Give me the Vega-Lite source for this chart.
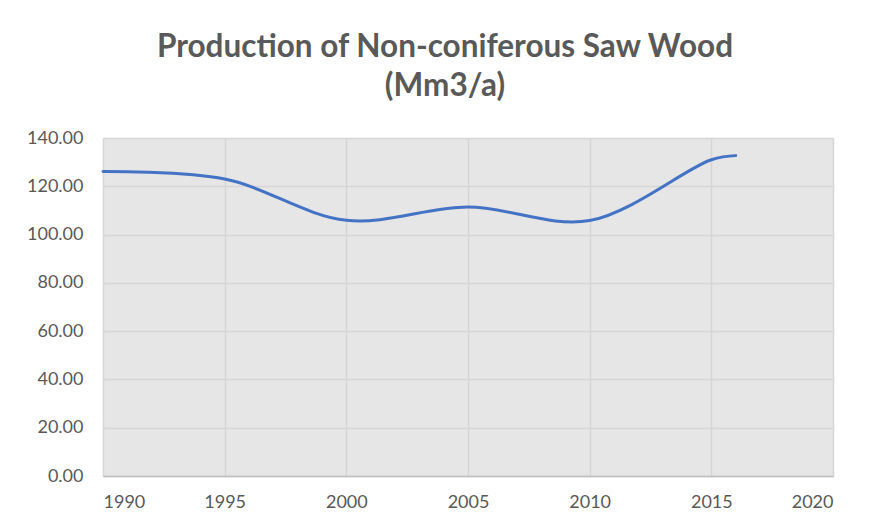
{
  "$schema": "https://vega.github.io/schema/vega-lite/v6.json",
  "autosize": {"type": "none"},
  "width": 730,
  "height": 338,
  "padding": {"left": 103, "top": 138, "right": 37, "bottom": 53},
  "background": "white",
  "title": {
    "text": ["Production of Non-coniferous Saw Wood", "(Mm3/a)"],
    "font": "Lato",
    "fontSize": 31.5,
    "fontWeight": "bold",
    "color": "#595959",
    "anchor": "middle",
    "dx": -23,
    "dy": 37,
    "baseline": "alphabetic",
    "offset": 39,
    "lineHeight": 39
  },
  "data": {
    "values": [
      {"year": 1990, "value": 126.1},
      {"year": 1995, "value": 123.0},
      {"year": 2000, "value": 105.9},
      {"year": 2005, "value": 111.4},
      {"year": 2010, "value": 105.8},
      {"year": 2015, "value": 131.0},
      {"year": 2016, "value": 132.7}
    ]
  },
  "mark": {"type": "line", "interpolate": "catmull-rom", "color": "#4472C4", "strokeWidth": 3, "strokeCap": "round"},
  "encoding": {
    "x": {
      "field": "year",
      "type": "quantitative",
      "scale": {"domain": [1990, 2020], "nice": false, "zero": false},
      "axis": {
        "title": null,
        "values": [1990, 1995, 2000, 2005, 2010, 2015, 2020],
        "format": "d",
        "ticks": false,
        "labelPadding": 17,
        "labelFont": "Lato",
        "labelFontSize": 18,
        "labelColor": "#595959",
        "domainColor": "#bfbfbf",
        "domainWidth": 1.5,
        "gridColor": "#d6d6d6",
        "gridWidth": 1.5
      }
    },
    "y": {
      "field": "value",
      "type": "quantitative",
      "scale": {"domain": [0, 140], "nice": false},
      "axis": {
        "title": null,
        "values": [0, 20, 40, 60, 80, 100, 120, 140],
        "format": ".2f",
        "ticks": false,
        "domain": false,
        "labelPadding": 20,
        "labelFont": "Lato",
        "labelFontSize": 18,
        "labelColor": "#595959",
        "gridColor": "#d6d6d6",
        "gridWidth": 1.5
      }
    }
  },
  "config": {
    "view": {"fill": "#e6e6e6", "stroke": null}
  }
}
